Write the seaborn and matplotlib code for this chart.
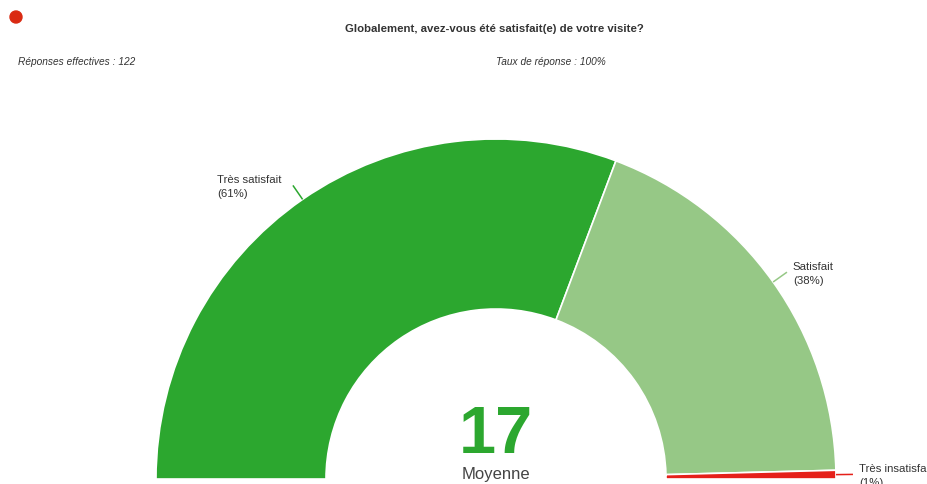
import numpy as np
import matplotlib
matplotlib.use("Agg")
import matplotlib.pyplot as plt
import seaborn as sns

# Survey answers (counts out of 122 responses)
categories = ["Très satisfait", "Satisfait", "Très insatisfait"]
counts = [75, 46, 1]
percent_labels = ["61%", "38%", "1%"]
colors = ["#2ca72f", "#96c886", "#e5201a"]
score = "17"
score_label = "Moyenne"
title = "Globalement, avez-vous été satisfait(e) de votre visite?"
responses_text = "Réponses effectives : 122"
rate_text = "Taux de réponse : 100%"

sns.set_theme(style="white")
plt.rcParams["font.family"] = ["Liberation Sans", "DejaVu Sans"]

W, H = 928, 485
fig = plt.figure(figsize=(W / 100, H / 100), dpi=100)
ax = fig.add_axes([0, 0, 1, 1])


def py(y):
    """Top-down pixel row to axis y."""
    return H - y


cx, cy = 496, py(480)
r_out, ring = 340, 170

# Half gauge: the hidden second half balances the visible arc
values = counts + [sum(counts)]
wedges, _ = ax.pie(
    values,
    colors=colors + ["none"],
    startangle=180,
    counterclock=False,
    center=(cx, cy),
    radius=r_out,
    frame=True,
    wedgeprops=dict(width=ring, edgecolor="white", linewidth=1.2),
)
wedges[-1].set_edgecolor("none")

text_color = "#333333"
for w, name, pct, col in zip(wedges[:-1], categories, percent_labels, colors):
    mid = np.deg2rad((w.theta1 + w.theta2) / 2)
    x0, y0 = cx + r_out * np.cos(mid), cy + r_out * np.sin(mid)
    x1, y1 = cx + (r_out + 17) * np.cos(mid), cy + (r_out + 17) * np.sin(mid)
    ax.plot([x0, x1], [y0, y1], color=col, lw=1.1, solid_capstyle="butt")
    label = f"{name}\n({pct})"
    if np.cos(mid) < 0:
        ax.text(x1 - 11, y1 + 11, label, ha="right", va="top", ma="left",
                fontsize=8.2, color=text_color, linespacing=1.45)
    else:
        ax.text(x1 + 6, y1 + 11, label, ha="left", va="top", ma="left",
                fontsize=8.2, color=text_color, linespacing=1.45)

# Score in the middle of the gauge
ax.text(cx, py(453), score, ha="center", va="baseline", fontsize=48,
        fontweight="bold", color="#2ca72f")
ax.text(cx, py(479), score_label, ha="center", va="baseline", fontsize=12,
        color="#444444")

# Header
ax.add_patch(plt.Circle((16, py(18)), 6, color="#da2a12"))
ax.text(494, py(29), title, ha="center", va="center", fontsize=8.2,
        fontweight="bold", color=text_color)
ax.text(18, py(62), responses_text, ha="left", va="center", fontsize=7.3,
        style="italic", color=text_color)
ax.text(496, py(62), rate_text, ha="left", va="center", fontsize=7.3,
        style="italic", color=text_color)

ax.set_xlim(0, W)
ax.set_ylim(0, H)
ax.set_aspect("auto")
ax.axis("off")

fig.savefig("out.png", dpi=100, facecolor="white")
